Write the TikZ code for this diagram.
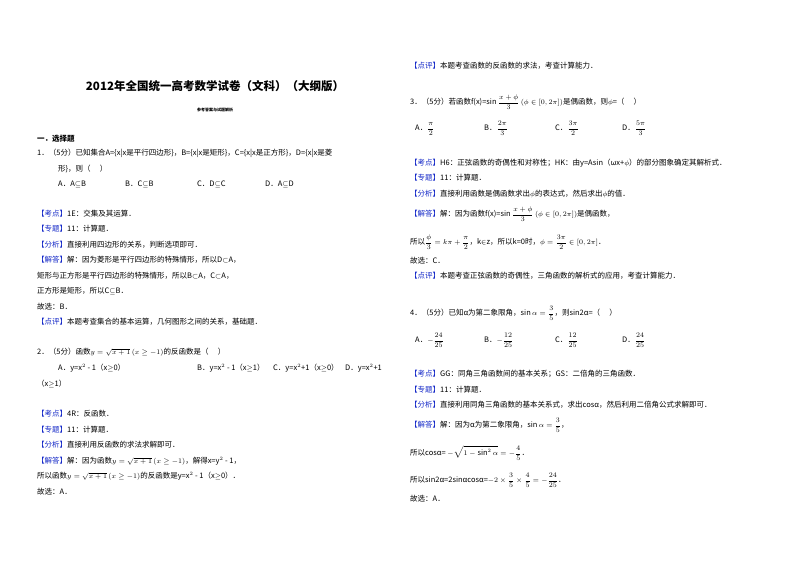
\documentclass[tikz,border=0pt]{standalone}
\usepackage{fontspec}
\setmainfont{Noto Sans CJK SC}
\definecolor{kb}{RGB}{20,40,200}
\tikzset{txt/.style={anchor=base west,inner sep=0pt,font=\fontsize{7.5}{8}\selectfont},
ctr/.style={anchor=base,inner sep=0pt}}
\newcommand\T[4]{\node[txt] (#1) at (#2,-#3-2.5) {#4};}
\newcommand\K[1]{\textcolor{kb}{【#1】}}
\newcommand\fr[2]{{\displaystyle\frac{#1}{#2}}}
\begin{document}
\begin{tikzpicture}[x=1pt,y=1pt]
\useasboundingbox[fill=white] (0,0) rectangle (800,-565);
\node[ctr,font=\fontsize{11.5}{12}\bfseries] (title) at (215,-90) {2012年全国统一高考数学试卷（文科）（大纲版）};
\node[ctr,font=\fontsize{4}{5}\bfseries] (sub) at (215,-111) {参考答案与试题解析};
\node[txt,font=\fontsize{7.5}{8}\bfseries] (sec) at (37,-141) {一．选择题};
\T{q1}{37}{153}{1．（5分）已知集合A=\{x|x是平行四边形\}，B=\{x|x是矩形\}，C=\{x|x是正方形\}，D=\{x|x是菱}
\T{q1b}{58}{169}{形\}，则（\quad\ ）}
\T{q1A}{58}{184}{A．A$\subseteq$B}
\T{q1B}{125}{184}{B．C$\subseteq$B}
\T{q1C}{197}{184}{C．D$\subseteq$C}
\T{q1D}{265}{184}{D．A$\subseteq$D}
\T{a1}{37}{214}{\K{考点}1E：交集及其运算．}
\T{a2}{37}{229}{\K{专题}11：计算题．}
\T{a3}{37}{245}{\K{分析}直接利用四边形的关系，判断选项即可．}
\T{a4}{37}{260}{\K{解答}解：因为菱形是平行四边形的特殊情形，所以D$\subset$A，}
\T{a5}{37}{276}{矩形与正方形是平行四边形的特殊情形，所以B$\subset$A，C$\subset$A，}
\T{a6}{37}{291}{正方形是矩形，所以C$\subseteq$B．}
\T{a7}{37}{307}{故选：B．}
\T{a8}{37}{322}{\K{点评}本题考查集合的基本运算，几何图形之间的关系，基础题．}
\T{q2}{37}{352}{2．（5分）函数$y=\sqrt{x+1}\,(x\geq-1)$的反函数是（\quad\ ）}
\T{q2A}{58}{368}{A．y=x$^2$ - 1（x$\geq$0）}
\T{q2B}{197}{368}{B．y=x$^2$ - 1（x$\geq$1）}
\T{q2C}{273}{368}{C．y=x$^2$+1（x$\geq$0）}
\T{q2D}{345}{368}{D．y=x$^2$+1}
\T{q2E}{37}{384}{（x$\geq$1）}
\T{b1}{37}{414}{\K{考点}4R：反函数．}
\T{b2}{37}{430}{\K{专题}11：计算题．}
\T{b3}{37}{445}{\K{分析}直接利用反函数的求法求解即可．}
\T{b4}{37}{461}{\K{解答}解：因为函数$y=\sqrt{x+1}\,(x\geq-1)$，解得x=y$^2$ - 1，}
\T{b5}{37}{476}{所以函数$y=\sqrt{x+1}\,(x\geq-1)$的反函数是y=x$^2$ - 1（x$\geq$0）．}
\T{b6}{37}{492}{故选：A．}
% right column
\T{c0}{410}{66}{\K{点评}本题考查函数的反函数的求法，考查计算能力．}
\T{q3}{410}{102}{3．（5分）若函数f(x)=$\sin\fr{x+\phi}{3}\,(\phi\in[0,2\pi])$是偶函数，则$\phi$=（\quad\ ）}
\T{q3A}{415}{128}{A．$\fr{\pi}{2}$}
\T{q3B}{484}{128}{B．$\fr{2\pi}{3}$}
\T{q3C}{555}{128}{C．$\fr{3\pi}{2}$}
\T{q3D}{622}{128}{D．$\fr{5\pi}{3}$}
\T{c1}{410}{163}{\K{考点}H6：正弦函数的奇偶性和对称性；HK：由y=Asin（ωx+$\phi$）的部分图象确定其解析式．}
\T{c2}{410}{178}{\K{专题}11：计算题．}
\T{c3}{410}{194}{\K{分析}直接利用函数是偶函数求出$\phi$的表达式，然后求出$\phi$的值．}
\T{c4}{410}{214}{\K{解答}解：因为函数f(x)=$\sin\fr{x+\phi}{3}\,(\phi\in[0,2\pi])$是偶函数，}
\T{c5}{410}{242}{所以$\fr{\phi}{3}=k\pi+\fr{\pi}{2}$，k$\in$z，所以k=0时，$\phi=\fr{3\pi}{2}\in[0,2\pi]$．}
\T{c6}{410}{261}{故选：C．}
\T{c7}{410}{276}{\K{点评}本题考查正弦函数的奇偶性，三角函数的解析式的应用，考查计算能力．}
\T{q4}{410}{313}{4．（5分）已知α为第二象限角，$\sin\alpha=\fr{3}{5}$，则sin2α=（\quad\ ）}
\T{q4A}{415}{340}{A．$-\fr{24}{25}$}
\T{q4B}{484}{340}{B．$-\fr{12}{25}$}
\T{q4C}{555}{340}{C．$\fr{12}{25}$}
\T{q4D}{622}{340}{D．$\fr{24}{25}$}
\T{d1}{410}{374}{\K{考点}GG：同角三角函数间的基本关系；GS：二倍角的三角函数．}
\T{d2}{410}{390}{\K{专题}11：计算题．}
\T{d3}{410}{405}{\K{分析}直接利用同角三角函数的基本关系式，求出cosα，然后利用二倍角公式求解即可．}
\T{d4}{410}{425}{\K{解答}解：因为α为第二象限角，$\sin\alpha=\fr{3}{5}$，}
\T{d5}{410}{453}{所以cosα= $-\sqrt{1-\sin^2\alpha}=-\fr{4}{5}$．}
\T{d6}{410}{480}{所以sin2α=2sinαcosα=$-2\times\fr{3}{5}\times\fr{4}{5}=-\fr{24}{25}$．}
\T{d7}{410}{499}{故选：A．}
\end{tikzpicture}
\end{document}
